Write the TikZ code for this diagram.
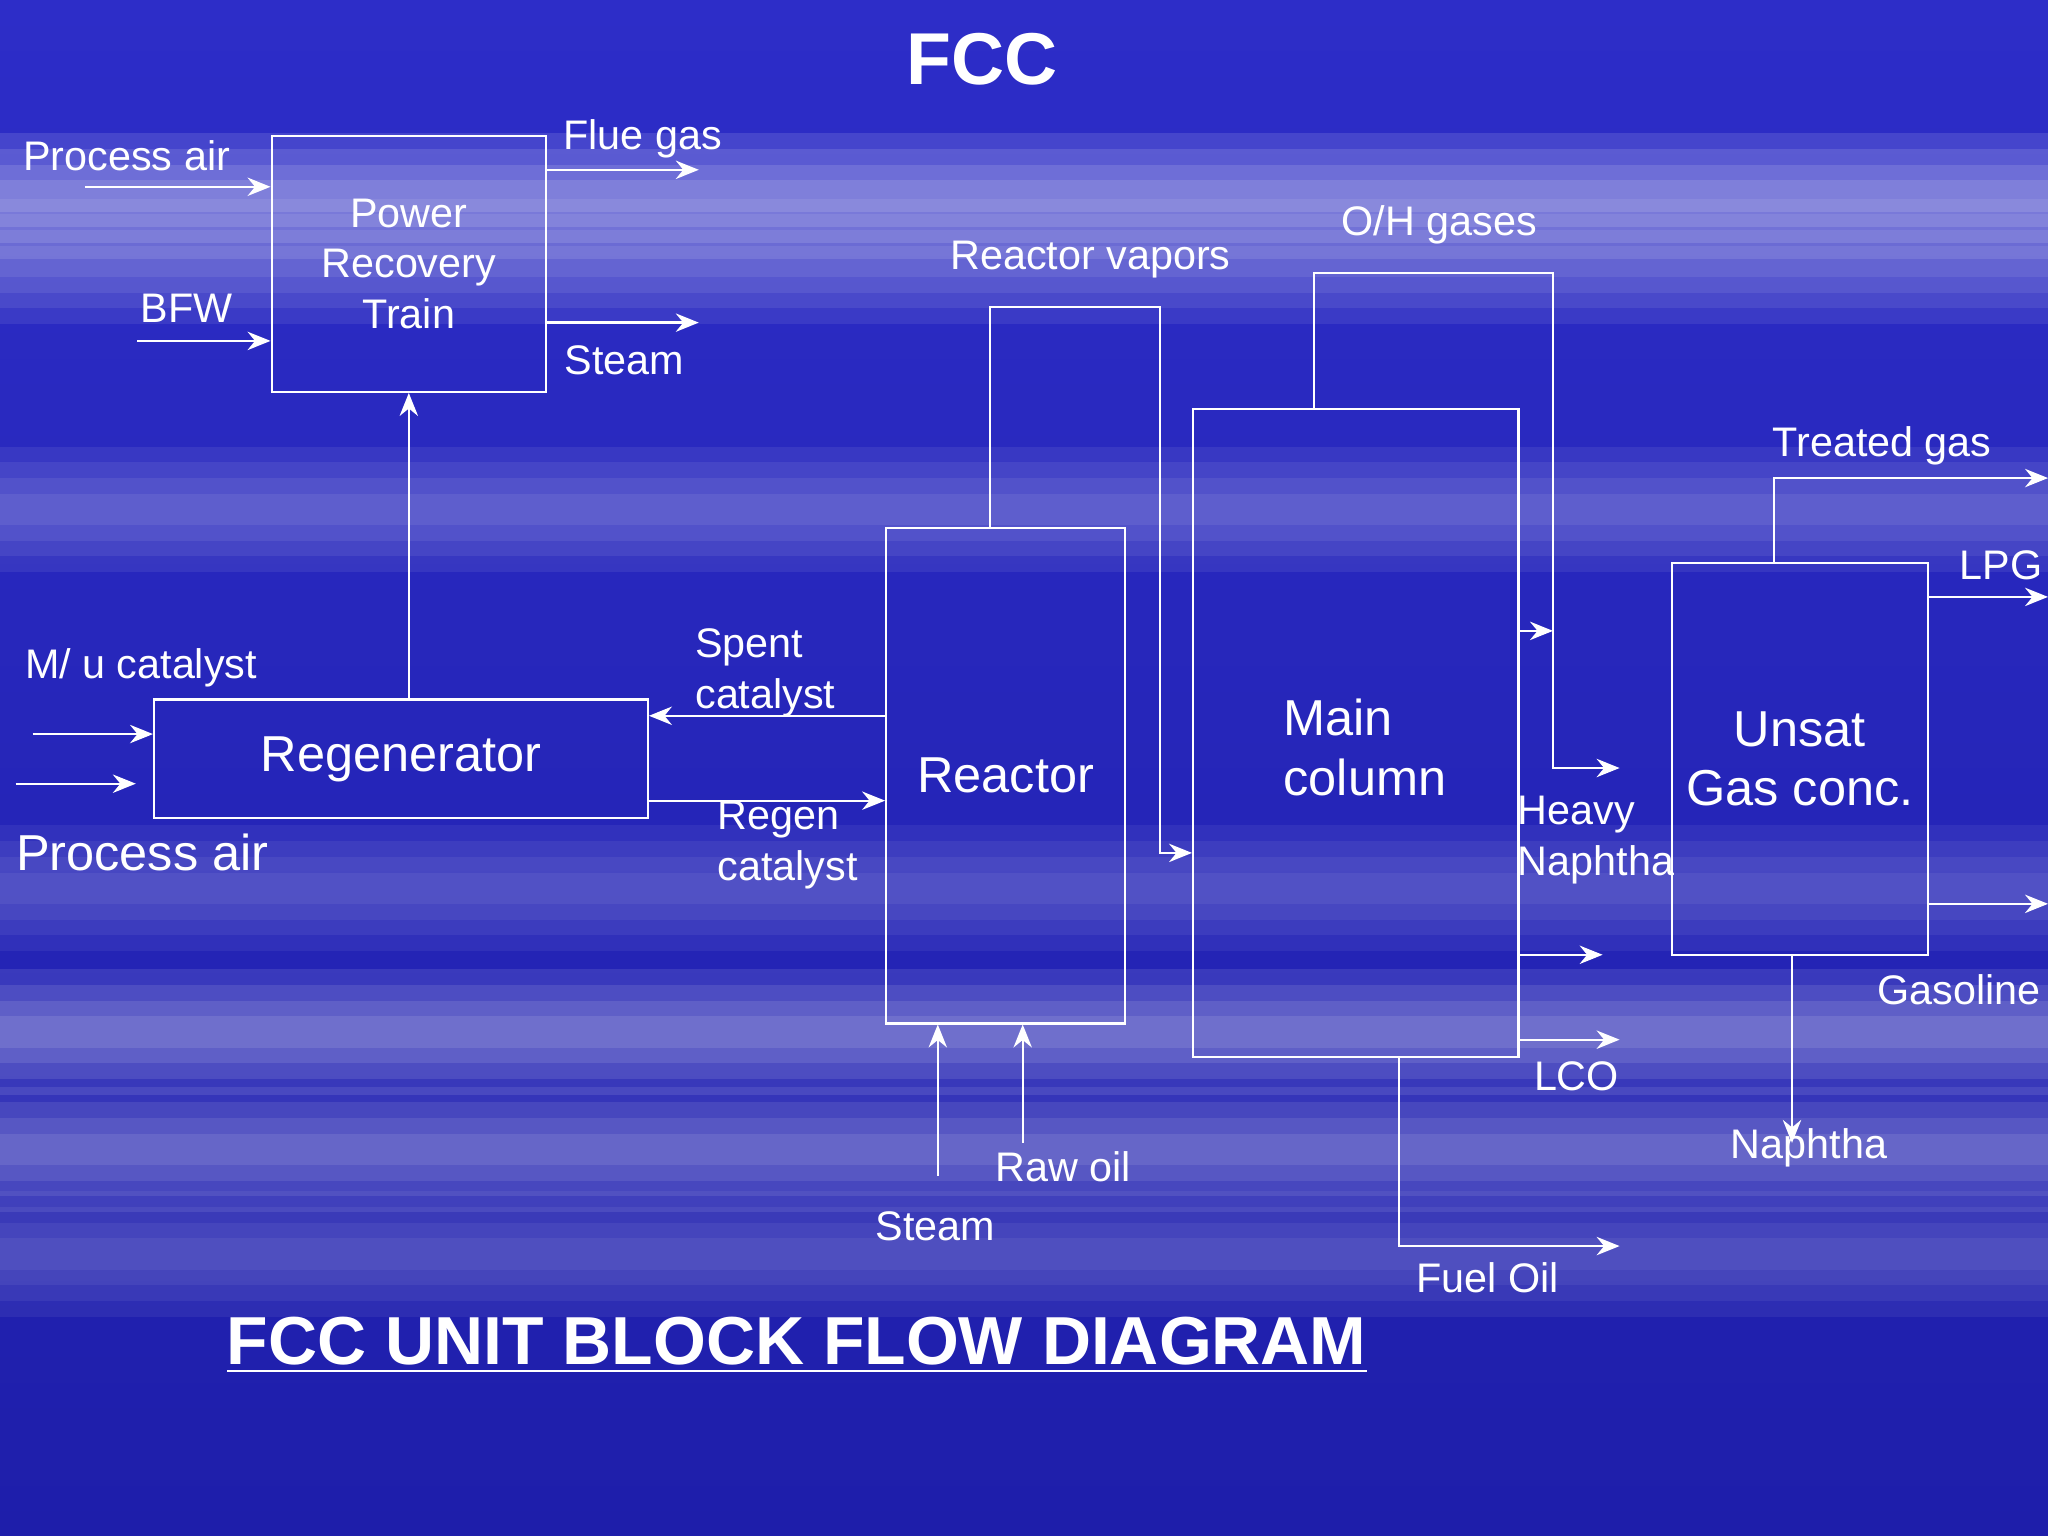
\documentclass[tikz,border=0pt]{standalone}
\usepackage{fontspec}
\setmainfont{Liberation Sans}
\usetikzlibrary{arrows.meta,positioning}
\definecolor{skyblue}{RGB}{45,45,200}
\definecolor{deepblue}{RGB}{30,30,170}
\begin{document}
\begin{tikzpicture}[x=0.1mm,y=-0.1mm,>={Stealth[length=5pt,width=4pt]},
  blk/.style={draw=white,line width=0.5pt,minimum width=0pt},
  lbl/.style={text=white,font=\fontsize{9}{11}\selectfont,inner sep=0pt},
  big/.style={text=white,font=\fontsize{11}{13}\selectfont,inner sep=0pt},
  flow/.style={draw=white,line width=0.5pt}]
  % background
  \fill[top color=skyblue,bottom color=deepblue] (0,0) rectangle (1568,1176);
  \foreach \y/\o in {150/0.12,200/0.08,390/0.07,680/0.06,790/0.1,880/0.09,960/0.06}
    \foreach \h in {12,24,36,48}
      \fill[white,opacity=\o] (0,\y-\h) rectangle (1568,\y+\h);
  \useasboundingbox (0,0) rectangle (1568,1176);

  % blocks
  \node[blk,minimum width=21mm,minimum height=19.6mm,lbl,align=center] (prt) at (313,202) {Power\\Recovery\\Train};
  \node[blk,minimum width=37.8mm,minimum height=9.1mm,big] (regen) at (307,581) {Regenerator};
  \node[blk,minimum width=18.3mm,minimum height=37.9mm,big] (reactor) at (770,594) {Reactor};
  \node[blk,minimum width=24.9mm,minimum height=49.6mm] (main) at (1038,561) {};
  \node[big,align=left] at (1045,572) {Main\\column};
  \node[blk,minimum width=19.6mm,minimum height=30mm,big,align=center] (unsat) at (1378,581) {Unsat\\Gas conc.};

  % titles
  \node[text=white,font=\bfseries\fontsize{16}{19}\selectfont] (title) at (752,45) {FCC};
  \node[text=white,font=\bfseries\fontsize{14.8}{18}\selectfont] (sub) at (610,1030) {\underline{FCC UNIT BLOCK FLOW DIAGRAM}};

  % labels
  \node[lbl] at (97,119) {Process air};
  \node[lbl] at (143,236) {BFW};
  \node[lbl] at (492,106) {Flue gas};
  \node[lbl] at (478,276) {Steam};
  \node[lbl] at (108,511) {M/ u catalyst};
  \node[big] at (109,653) {Process air};
  \node[lbl,align=left] at (586,515) {Spent\\catalyst};
  \node[lbl,align=left] at (603,647) {Regen\\catalyst};
  \node[lbl] at (835,199) {Reactor vapors};
  \node[lbl] at (1102,172) {O/H gases};
  \node[lbl,align=left] at (1222,643) {Heavy\\Naphtha};
  \node[lbl] at (1207,824) {LCO};
  \node[lbl] at (1139,978) {Fuel Oil};
  \node[lbl] at (716,939) {Steam};
  \node[lbl] at (814,893) {Raw oil};
  \node[lbl] at (1441,341) {Treated gas};
  \node[lbl] at (1532,433) {LPG};
  \node[lbl] at (1500,758) {Gasoline};
  \node[lbl] at (1385,879) {Naphtha};

  % free ends
  \coordinate (pa1) at (65,143);  \coordinate (bfw) at (105,261);
  \coordinate (flue) at (535,130); \coordinate (stm) at (535,247);
  \coordinate (mu) at (25,562);   \coordinate (pa2) at (12,600);
  \coordinate (ohout) at (1240,588); \coordinate (hn) at (1227,731);
  \coordinate (lco) at (1240,796); \coordinate (fo) at (1240,954);
  \coordinate (rstm) at (718,900); \coordinate (raw) at (783,875);
  \coordinate (tg) at (1568,366); \coordinate (lpg) at (1568,457);
  \coordinate (gas) at (1568,692); \coordinate (nap) at (1372,875);

  \path[flow,->] (pa1) -- (pa1 -| prt.west);
  \path[flow,->] (bfw) -- (bfw -| prt.west);
  \path[flow,->] (flue -| prt.east) -- (flue);
  \path[flow,->] (stm -| prt.east) -- (stm);
  \path[flow,->] (regen.north -| prt.south) -- (prt.south);
  \path[flow,->] (mu) -- (mu -| regen.west);
  \path[flow,->] (pa2) -- (104,600);
  \path[flow,->] (reactor.west |- 0,548) -- (regen.east |- 0,548);
  \path[flow,->] (regen.east |- 0,613) -- (reactor.west |- 0,613);
  \path[flow,->] (reactor.north -| 758,0) -- (758,235) -- (888,235) -- (888,653) -- (main.west |- 0,653);
  \path[flow,->] (main.north -| 1006,0) -- (1006,209) -- (1189,209) -- (1189,588) -- (ohout);
  \path[flow,->] (main.east |- 0,483) -- (1189,483);
  \path[flow,->] (main.east |- hn) -- (hn);
  \path[flow,->] (main.east |- lco) -- (lco);
  \path[flow,->] (main.south -| 1071,0) -- (1071,954) -- (fo);
  \path[flow,->] (rstm) -- (rstm |- reactor.south);
  \path[flow,->] (raw) -- (raw |- reactor.south);
  \path[flow,->] (unsat.north -| 1358,0) -- (1358,366) -- (tg);
  \path[flow,->] (unsat.east |- lpg) -- (lpg);
  \path[flow,->] (unsat.east |- gas) -- (gas);
  \path[flow,->] (unsat.south -| nap) -- (nap);
\end{tikzpicture}
\end{document}
